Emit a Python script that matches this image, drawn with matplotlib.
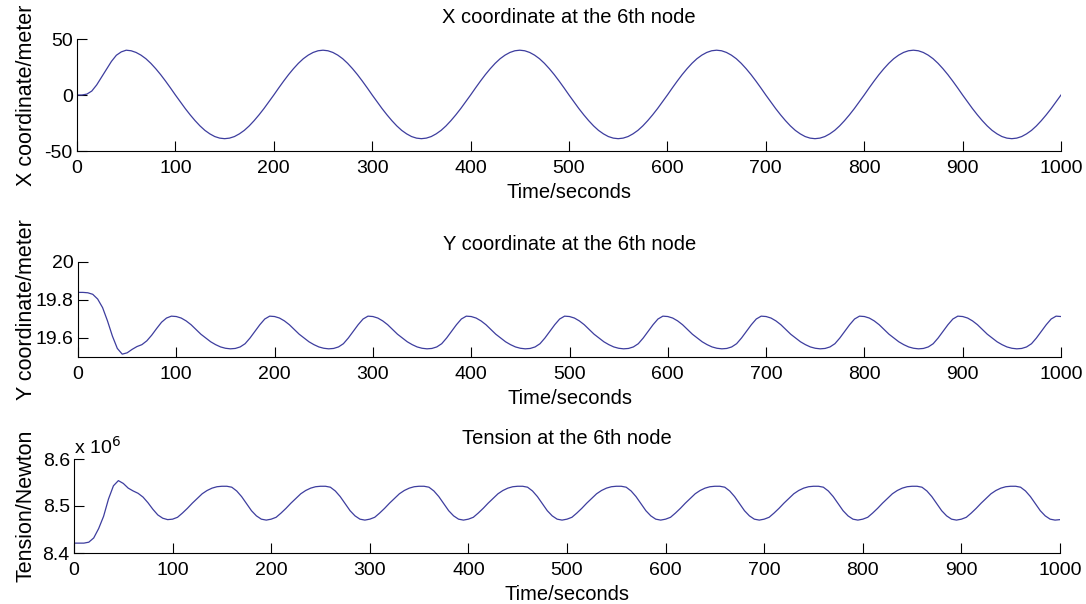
import matplotlib
matplotlib.use("Agg")
import matplotlib.pyplot as plt

plt.rcParams["font.family"] = ["Liberation Sans", "DejaVu Sans"]

# ----------------------------
# data (5 s sampling)
# ----------------------------
time_s = list(range(0, 1001, 5))

# X coordinate at the 6th node [m]
x_coord = [
    0, 0, 0.8, 3.5, 9, 16, 23, 30, 35.5, 38.5, 40, 39.5, 38.0, 35.6, 32.4, 28.3, 23.5, 18.2, 12.4, 6.3,
    0, -6.1, -12.1, -17.7, -22.9, -27.6, -31.6, -34.7, -37.1, -38.5, -39, -38.5, -37.1, -34.7, -31.6, -27.6, -22.9, -17.7, -12.1, -6.1,
    0, 6.3, 12.4, 18.2, 23.5, 28.3, 32.4, 35.6, 38.0, 39.5, 40, 39.5, 38.0, 35.6, 32.4, 28.3, 23.5, 18.2, 12.4, 6.3,
    0, -6.1, -12.1, -17.7, -22.9, -27.6, -31.6, -34.7, -37.1, -38.5, -39, -38.5, -37.1, -34.7, -31.6, -27.6, -22.9, -17.7, -12.1, -6.1,
    0, 6.3, 12.4, 18.2, 23.5, 28.3, 32.4, 35.6, 38.0, 39.5, 40, 39.5, 38.0, 35.6, 32.4, 28.3, 23.5, 18.2, 12.4, 6.3,
    0, -6.1, -12.1, -17.7, -22.9, -27.6, -31.6, -34.7, -37.1, -38.5, -39, -38.5, -37.1, -34.7, -31.6, -27.6, -22.9, -17.7, -12.1, -6.1,
    0, 6.3, 12.4, 18.2, 23.5, 28.3, 32.4, 35.6, 38.0, 39.5, 40, 39.5, 38.0, 35.6, 32.4, 28.3, 23.5, 18.2, 12.4, 6.3,
    0, -6.1, -12.1, -17.7, -22.9, -27.6, -31.6, -34.7, -37.1, -38.5, -39, -38.5, -37.1, -34.7, -31.6, -27.6, -22.9, -17.7, -12.1, -6.1,
    0, 6.3, 12.4, 18.2, 23.5, 28.3, 32.4, 35.6, 38.0, 39.5, 40, 39.5, 38.0, 35.6, 32.4, 28.3, 23.5, 18.2, 12.4, 6.3,
    0, -6.1, -12.1, -17.7, -22.9, -27.6, -31.6, -34.7, -37.1, -38.5, -39, -38.5, -37.1, -34.7, -31.6, -27.6, -22.9, -17.7, -12.1, -6.1,
    0,
]

# Y coordinate at the 6th node [m]
y_coord = [
    19.84, 19.84, 19.838, 19.83, 19.805, 19.76, 19.69, 19.61, 19.545, 19.515, 19.522, 19.54, 19.555, 19.565, 19.585, 19.615, 19.65, 19.683, 19.705, 19.715,
    19.713, 19.705, 19.69, 19.67, 19.645, 19.62, 19.60, 19.58, 19.565, 19.553, 19.546, 19.543, 19.545, 19.553, 19.57, 19.60, 19.635, 19.67, 19.70, 19.715,
    19.713, 19.705, 19.69, 19.67, 19.645, 19.62, 19.60, 19.58, 19.565, 19.553, 19.546, 19.543, 19.545, 19.553, 19.57, 19.60, 19.635, 19.67, 19.70, 19.715,
    19.713, 19.705, 19.69, 19.67, 19.645, 19.62, 19.60, 19.58, 19.565, 19.553, 19.546, 19.543, 19.545, 19.553, 19.57, 19.60, 19.635, 19.67, 19.70, 19.715,
    19.713, 19.705, 19.69, 19.67, 19.645, 19.62, 19.60, 19.58, 19.565, 19.553, 19.546, 19.543, 19.545, 19.553, 19.57, 19.60, 19.635, 19.67, 19.70, 19.715,
    19.713, 19.705, 19.69, 19.67, 19.645, 19.62, 19.60, 19.58, 19.565, 19.553, 19.546, 19.543, 19.545, 19.553, 19.57, 19.60, 19.635, 19.67, 19.70, 19.715,
    19.713, 19.705, 19.69, 19.67, 19.645, 19.62, 19.60, 19.58, 19.565, 19.553, 19.546, 19.543, 19.545, 19.553, 19.57, 19.60, 19.635, 19.67, 19.70, 19.715,
    19.713, 19.705, 19.69, 19.67, 19.645, 19.62, 19.60, 19.58, 19.565, 19.553, 19.546, 19.543, 19.545, 19.553, 19.57, 19.60, 19.635, 19.67, 19.70, 19.715,
    19.713, 19.705, 19.69, 19.67, 19.645, 19.62, 19.60, 19.58, 19.565, 19.553, 19.546, 19.543, 19.545, 19.553, 19.57, 19.60, 19.635, 19.67, 19.70, 19.715,
    19.713, 19.705, 19.69, 19.67, 19.645, 19.62, 19.60, 19.58, 19.565, 19.553, 19.546, 19.543, 19.545, 19.553, 19.57, 19.60, 19.635, 19.67, 19.70, 19.715,
    19.713,
]

# Tension at the 6th node [x 10^6 N]
tension = [
    8.421, 8.421, 8.421, 8.423, 8.432, 8.452, 8.478, 8.515, 8.543, 8.554, 8.548, 8.538, 8.532, 8.527, 8.519, 8.507, 8.493, 8.481, 8.474, 8.471,
    8.472, 8.476, 8.485, 8.495, 8.506, 8.516, 8.526, 8.533, 8.538, 8.541, 8.542, 8.542, 8.540, 8.532, 8.520, 8.505, 8.490, 8.479, 8.472, 8.470,
    8.472, 8.476, 8.485, 8.495, 8.506, 8.516, 8.526, 8.533, 8.538, 8.541, 8.542, 8.542, 8.540, 8.532, 8.520, 8.505, 8.490, 8.479, 8.472, 8.470,
    8.472, 8.476, 8.485, 8.495, 8.506, 8.516, 8.526, 8.533, 8.538, 8.541, 8.542, 8.542, 8.540, 8.532, 8.520, 8.505, 8.490, 8.479, 8.472, 8.470,
    8.472, 8.476, 8.485, 8.495, 8.506, 8.516, 8.526, 8.533, 8.538, 8.541, 8.542, 8.542, 8.540, 8.532, 8.520, 8.505, 8.490, 8.479, 8.472, 8.470,
    8.472, 8.476, 8.485, 8.495, 8.506, 8.516, 8.526, 8.533, 8.538, 8.541, 8.542, 8.542, 8.540, 8.532, 8.520, 8.505, 8.490, 8.479, 8.472, 8.470,
    8.472, 8.476, 8.485, 8.495, 8.506, 8.516, 8.526, 8.533, 8.538, 8.541, 8.542, 8.542, 8.540, 8.532, 8.520, 8.505, 8.490, 8.479, 8.472, 8.470,
    8.472, 8.476, 8.485, 8.495, 8.506, 8.516, 8.526, 8.533, 8.538, 8.541, 8.542, 8.542, 8.540, 8.532, 8.520, 8.505, 8.490, 8.479, 8.472, 8.470,
    8.472, 8.476, 8.485, 8.495, 8.506, 8.516, 8.526, 8.533, 8.538, 8.541, 8.542, 8.542, 8.540, 8.532, 8.520, 8.505, 8.490, 8.479, 8.472, 8.470,
    8.472, 8.476, 8.485, 8.495, 8.506, 8.516, 8.526, 8.533, 8.538, 8.541, 8.542, 8.542, 8.540, 8.532, 8.520, 8.505, 8.490, 8.479, 8.472, 8.470,
    8.471,
]

x_ticks = list(range(0, 1001, 100))

W, H = 1086, 604
FS_TICK = 14
FS_TEXT = 14.5
FS_YLAB = 15.5
LINE_COLOR = "#3d3d9e"


def px_axes(fig, left, top, right, bottom):
    # pixel box (from top-left) -> figure fraction axes
    return fig.add_axes([left / W, 1 - bottom / H, (right - left) / W, (bottom - top) / H])


def style(ax, ylim, yticks, yticklabels, ylabel, title, title_pad, ylab_x):
    ax.set_xlim(0, 1000)
    ax.set_ylim(*ylim)
    ax.set_xticks(x_ticks)
    ax.set_xticklabels([str(t) for t in x_ticks], fontsize=FS_TICK)
    ax.set_yticks(yticks)
    ax.set_yticklabels(yticklabels, fontsize=FS_TICK)
    ax.spines["top"].set_visible(False)
    ax.spines["right"].set_visible(False)
    for s in ("left", "bottom"):
        ax.spines[s].set_linewidth(0.8)
    ax.tick_params(direction="in", length=7, width=0.8)
    ax.tick_params(axis="x", pad=6.5)
    ax.tick_params(axis="y", pad=3)
    ax.set_xlabel("Time/seconds", fontsize=FS_TEXT, labelpad=4)
    ax.set_ylabel(ylabel, fontsize=FS_YLAB)
    ax.yaxis.set_label_coords(ylab_x, 0.5)
    ax.set_title(title, fontsize=FS_TEXT, pad=title_pad)


fig = plt.figure(figsize=(W / 100, H / 100), dpi=100)

ax1 = px_axes(fig, 77, 39, 1061, 151)
ax1.plot(time_s, x_coord, color=LINE_COLOR, lw=0.9)
style(ax1, (-50, 50), [-50, 0, 50], ["-50", "0", "50"],
      "X coordinate/meter", "X coordinate at the 6th node", 11.5, -0.041)

ax2 = px_axes(fig, 78, 262, 1061, 357)
ax2.plot(time_s, y_coord, color=LINE_COLOR, lw=0.9)
style(ax2, (19.5, 20), [19.6, 19.8, 20], ["19.6", "19.8", "20"],
      "Y coordinate/meter", "Y coordinate at the 6th node", 9, -0.042)

ax3 = px_axes(fig, 74, 459, 1060, 553)
ax3.plot(time_s, tension, color=LINE_COLOR, lw=0.9)
style(ax3, (8.4, 8.6), [8.4, 8.5, 8.6], ["8.4", "8.5", "8.6"],
      "Tension/Newton", "Tension at the 6th node", 10.5, -0.038)
ax3.text(0.0, 1.01, r"x 10$^{6}$", transform=ax3.transAxes, fontsize=FS_TICK,
         ha="left", va="bottom")

fig.savefig("out.png", dpi=100)
